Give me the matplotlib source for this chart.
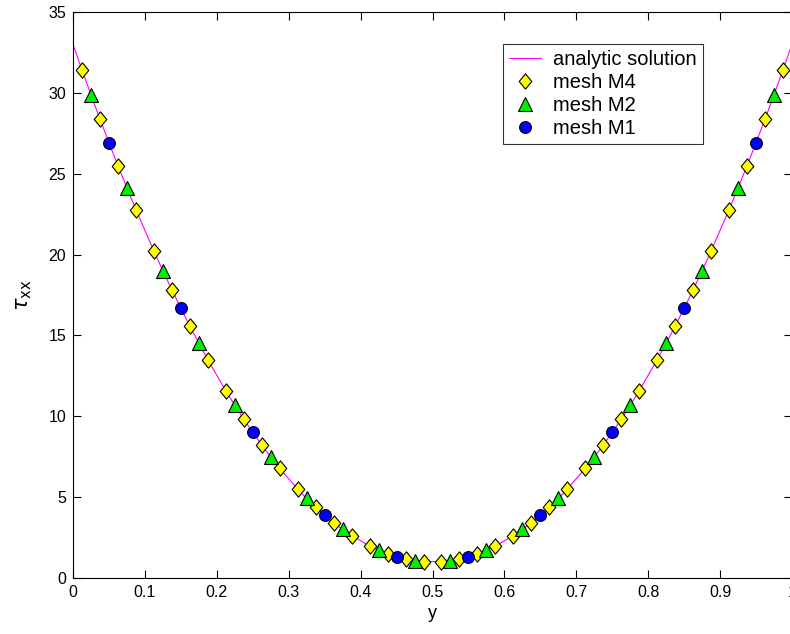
import matplotlib
matplotlib.use("Agg")
import matplotlib.pyplot as plt
from matplotlib.path import Path

plt.rcParams['font.family'] = ['Liberation Sans', 'DejaVu Sans']

# mesh M1 (cell centres, h = 0.1)
y_m1 = [0.05, 0.15, 0.25, 0.35, 0.45, 0.55, 0.65, 0.75, 0.85, 0.95]
tau_m1 = [26.92, 16.68, 9.00, 3.88, 1.32, 1.32, 3.88, 9.00, 16.68, 26.92]

# mesh M2 (h = 0.05)
y_m2 = [0.025, 0.075, 0.125, 0.175, 0.225, 0.275, 0.325, 0.375, 0.425, 0.475,
        0.525, 0.575, 0.625, 0.675, 0.725, 0.775, 0.825, 0.875, 0.925, 0.975]
tau_m2 = [29.88, 24.12, 19.00, 14.52, 10.68, 7.48, 4.92, 3.00, 1.72, 1.08,
          1.08, 1.72, 3.00, 4.92, 7.48, 10.68, 14.52, 19.00, 24.12, 29.88]

# mesh M4 (h = 0.025)
y_m4 = [0.0125, 0.0375, 0.0625, 0.0875, 0.1125, 0.1375, 0.1625, 0.1875, 0.2125, 0.2375,
        0.2625, 0.2875, 0.3125, 0.3375, 0.3625, 0.3875, 0.4125, 0.4375, 0.4625, 0.4875,
        0.5125, 0.5375, 0.5625, 0.5875, 0.6125, 0.6375, 0.6625, 0.6875, 0.7125, 0.7375,
        0.7625, 0.7875, 0.8125, 0.8375, 0.8625, 0.8875, 0.9125, 0.9375, 0.9625, 0.9875]
tau_m4 = [31.42, 28.38, 25.50, 22.78, 20.22, 17.82, 15.58, 13.50, 11.58, 9.82,
          8.22, 6.78, 5.50, 4.38, 3.42, 2.62, 1.98, 1.50, 1.18, 1.02,
          1.02, 1.18, 1.50, 1.98, 2.62, 3.42, 4.38, 5.50, 6.78, 8.22,
          9.82, 11.58, 13.50, 15.58, 17.82, 20.22, 22.78, 25.50, 28.38, 31.42]

# analytic curve: wall values + the sampled points above
y_wall = [0.0, 1.0]
tau_wall = [33.0, 33.0]
pts = sorted(set(zip(y_wall + y_m1 + y_m2 + y_m4, tau_wall + tau_m1 + tau_m2 + tau_m4)))
y_an = [p[0] for p in pts]
tau_an = [p[1] for p in pts]

# matlab-ish diamond, a bit taller than wide
diamond = Path([(0, 1), (0.82, 0), (0, -1), (-0.82, 0), (0, 1)],
               [Path.MOVETO, Path.LINETO, Path.LINETO, Path.LINETO, Path.CLOSEPOLY])

fig = plt.figure(figsize=(7.9, 6.34), dpi=100)
ax = fig.add_axes([73 / 790, 56 / 634, 719 / 790, 566 / 634])

ax.plot(y_an, tau_an, color="magenta", lw=0.8, label="analytic solution")
ax.plot(y_m4, tau_m4, ls="none", marker=diamond, ms=11, mfc="yellow", mec="black", mew=0.8,
        label="mesh M4")
ax.plot(y_m2, tau_m2, "^", ms=9.5, mfc="#00ee00", mec="black", mew=0.8, label="mesh M2")
ax.plot(y_m1, tau_m1, "o", ms=8.5, mfc="blue", mec="black", mew=0.8, label="mesh M1")

ax.set_xlim(0, 1)
ax.set_ylim(0, 35)
ax.set_xticks([0, 0.1, 0.2, 0.3, 0.4, 0.5, 0.6, 0.7, 0.8, 0.9, 1])
ax.set_xticklabels(["0", "0.1", "0.2", "0.3", "0.4", "0.5", "0.6", "0.7", "0.8", "0.9", "1"])
ax.set_yticks(range(0, 36, 5))
ax.tick_params(direction="in", top=True, right=True, length=6, labelsize=11.5, pad=5)
ax.set_xlabel("y", fontsize=13)
ax.set_ylabel(r"$\tau_{\mathrm{xx}}$", fontsize=15, labelpad=10)

leg = ax.legend(loc="upper left", bbox_to_anchor=(430 / 719, 1 - 32 / 566), fontsize=14.5,
                frameon=True, fancybox=False, edgecolor="black", handlelength=1.6,
                borderpad=0.3, labelspacing=0.2, handletextpad=0.6, borderaxespad=0)
leg.get_frame().set_linewidth(0.8)

fig.savefig("out.png", dpi=100)
